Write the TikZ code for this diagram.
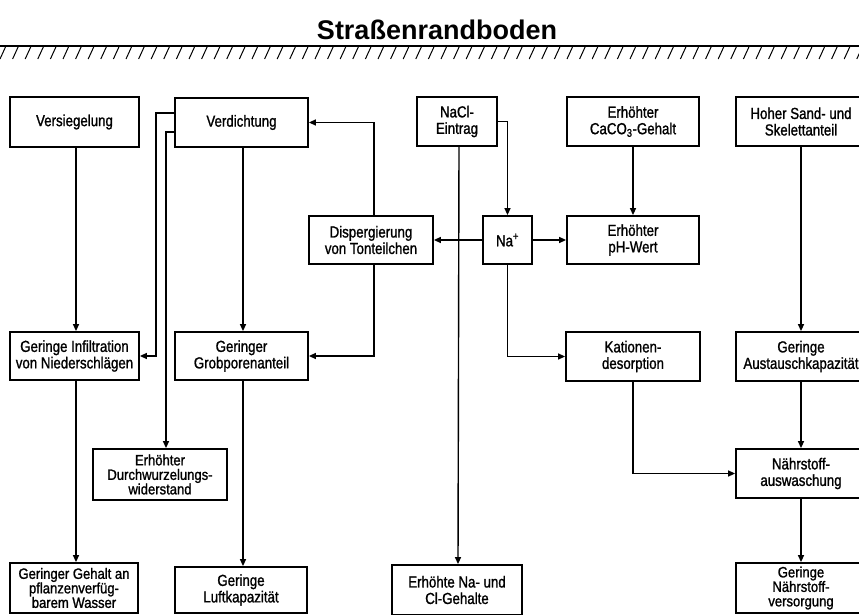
\documentclass[tikz,border=0pt]{standalone}
\usepackage{fontspec}
\setmainfont{Liberation Sans}
\newfontfamily\boxfont[FakeStretch=0.83,FakeBold=1.2]{Liberation Sans}
\newfontfamily\triboxfont[FakeStretch=0.87,FakeBold=1.2]{Liberation Sans}
\newfontfamily\titlefont{Liberation Sans}
\usetikzlibrary{arrows.meta}
\tikzset{
  box/.style={draw, line width=1.8pt, align=center, inner sep=0pt,
    font=\boxfont\fontsize{16}{16.5}\selectfont},
  tribox/.style={box, font=\triboxfont\fontsize{15}{14.5}\selectfont},
  arr/.style={line width=1.4pt, -{Triangle[length=7pt,width=6pt]}},
  hatch/.style={line width=1pt}
}
\begin{document}
\begin{tikzpicture}[x=1pt,y=-1pt]
\useasboundingbox (0,0) rectangle (859,615);
\clip (0,0) rectangle (859,615);
\fill[white] (0,0) rectangle (859,615);
% title and ground surface
\node[font=\titlefont\bfseries\fontsize{27}{30}\selectfont] (title) at (437,30) {Straßenrandboden};
\draw[line width=1.6pt] (0,46) -- (859,46);
\foreach \x in {0,12.6,...,870} \draw[hatch] (\x,59) -- (\x+5.5,47);
% top row
\node[box, minimum width=129, minimum height=50] (vers) at (74.5,122) {Versiegelung};
\node[box, minimum width=133, minimum height=49] (verd) at (241.5,122.5) {Verdichtung};
\node[box, minimum width=80, minimum height=49] (nacl) at (457,121.5) {NaCl-\\Eintrag};
\node[box, minimum width=132, minimum height=49] (caco) at (633,121.5) {Erhöhter\\CaCO\textsubscript{3}-Gehalt};
\node[box, minimum width=130, minimum height=49] (sand) at (801,121.5) {Hoher Sand- und\\Skelettanteil};
% second row
\node[box, minimum width=124, minimum height=48] (disp) at (371,240) {Dispergierung\\von Tonteilchen};
\node[box, minimum width=49, minimum height=48] (na) at (507.5,240) {Na\textsuperscript{+}};
\node[box, minimum width=132, minimum height=48] (ph) at (633,240) {Erhöhter\\pH-Wert};
% third row
\node[box, minimum width=129, minimum height=48] (infil) at (74.5,356) {Geringe Infiltration\\von Niederschlägen};
\node[box, minimum width=133, minimum height=48] (grob) at (241.5,356) {Geringer\\Grobporenanteil};
\node[box, minimum width=134, minimum height=49] (kat) at (633,356.5) {Kationen-\\desorption};
\node[box, minimum width=130, minimum height=49] (aust) at (801,356.5) {Geringe\\Austauschkapazität};
% fourth row
\node[tribox, minimum width=134, minimum height=51] (durch) at (160,474.5) {Erhöhter\\Durchwurzelungs-\\widerstand};
\node[box, minimum width=130, minimum height=49] (naehr) at (801,473.5) {Nährstoff-\\auswaschung};
% bottom row
\node[tribox, minimum width=128, minimum height=50] (wasser) at (74,588) {Geringer Gehalt an\\pflanzenverfüg-\\barem Wasser};
\node[box, minimum width=132, minimum height=46] (luft) at (241,590) {Geringe\\Luftkapazität};
\node[box, minimum width=130, minimum height=50] (nacl2) at (457,590) {Erhöhte Na- und\\Cl-Gehalte};
\node[tribox, minimum width=130, minimum height=50] (versorg) at (801,588) {Geringe\\Nährstoff-\\versorgung};
% connectors
\draw[arr] ([xshift=1.5pt]vers.south) -- ([xshift=1.5pt]infil.north);
\draw[arr] ([yshift=9.5pt]verd.west) -- ++(-18,0) |- (infil.east);
\draw[arr] ([yshift=-9.5pt]verd.west) -| ([xshift=6pt]durch.north);
\draw[arr] ([xshift=1.5pt]verd.south) -- ([xshift=1.5pt]grob.north);
\draw[arr] ([xshift=3pt]disp.north) |- (verd.east);
\draw[arr] ([xshift=3pt]disp.south) |- (grob.east);
\draw[arr] (nacl.east) -| (na.north);
\draw[arr] ([xshift=2pt]nacl.south) -- ([xshift=1pt]nacl2.north);
\draw[arr] (na.west) -- (disp.east);
\draw[arr] (na.east) -- (ph.west);
\draw[arr] (na.south) |- (kat.west);
\draw[arr] (caco.south) -- (ph.north);
\draw[arr] (sand.south) -- (aust.north);
\draw[arr] (aust.south) -- (naehr.north);
\draw[arr] (naehr.south) -- (versorg.north);
\draw[arr] (kat.south) |- (naehr.west);
\draw[arr] ([xshift=1.5pt]infil.south) -- ([xshift=2pt]wasser.north);
\draw[arr] ([xshift=1.5pt]grob.south) -- ([xshift=2pt]luft.north);
\end{tikzpicture}
\end{document}
